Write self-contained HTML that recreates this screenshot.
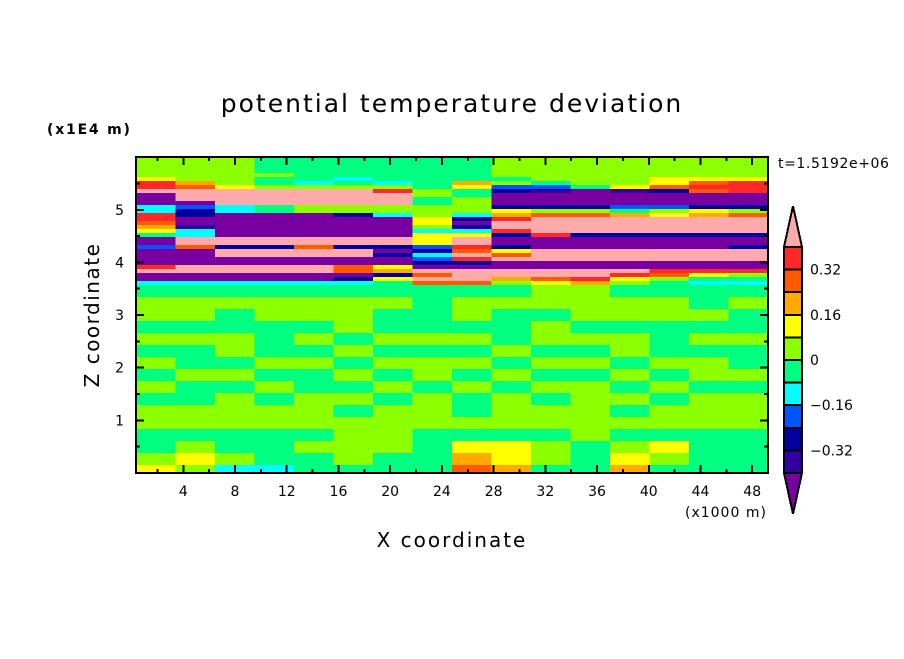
<!DOCTYPE html>
<html><head><meta charset="utf-8"><style>
body{margin:0;background:#fff;}
svg text{font-family:"DejaVu Sans","Liberation Sans",sans-serif;fill:#000;}
</style></head><body>
<svg id="chart" width="904" height="654" viewBox="0 0 904 654" xmlns="http://www.w3.org/2000/svg" shape-rendering="crispEdges">
<rect width="904" height="654" fill="#fff"/>
<g id="cells"></g>
<g id="frame"></g>
<g id="cbar"></g>
<text x="452" y="112" font-size="25" letter-spacing="2" text-anchor="middle">potential temperature deviation</text>
<text x="47" y="134" font-size="14" letter-spacing="1.8" font-weight="bold">(x1E4 m)</text>
<text x="778" y="168" font-size="14" letter-spacing="0.6">t=1.5192e+06</text>
<text x="685" y="517" font-size="14" letter-spacing="1">(x1000 m)</text>
<text x="452" y="547" font-size="20" letter-spacing="2" text-anchor="middle">X coordinate</text>
<text transform="translate(99,315) rotate(-90)" font-size="20" letter-spacing="1.5" text-anchor="middle">Z coordinate</text>
<g id="ticklabels"></g>
</svg>
<script>
const colors=["#7800a0","#3200a0","#0000a0","#0055ff","#00ffff","#00ff80","#8cff00","#ffff00","#ffaa00","#ff5a00","#ff2828","#ffaaaa"];
const cbarLabels=["0.32","0.16","0","-0.16","-0.32"];
const cbarLabelValues=[0.32,0.16,0,-0.16,-0.32];
const xTicks=[4,8,12,16,20,24,28,32,36,40,44,48];
const yTicks=[1,2,3,4,5];
// upper region: z from 6.0 downward in 4px rows, 16 columns; codes index colour classes (value = -0.44 + 0.08*code)
const upperRows=[
[6,6,6,5,5,5,5,5,5,6,6,6,6,6,6,6],
[6,6,6,5,5,5,5,5,5,6,6,6,6,6,6,6],
[6,6,6,5,5,5,5,5,5,6,6,6,6,6,6,6],
[6,6,6,5,5,5,5,5,5,6,6,6,6,6,6,6],
[6,6,6,6,5,5,5,5,5,6,6,6,6,6,6,6],
[7,6,6,5,5,4,5,5,5,5,6,6,6,7,7,7],
[10,8,6,5,4,5,4,5,8,6,5,6,6,7,9,10],
[10,9,7,6,6,6,6,5,7,3,3,5,7,9,10,10],
[11,11,11,11,11,11,10,6,5,2,1,0,1,2,9,10],
[0,11,11,11,11,11,11,6,5,0,0,0,0,0,0,0],
[0,11,11,11,11,11,11,5,6,0,0,0,0,0,0,0],
[0,0,11,11,11,11,11,5,6,0,0,0,0,0,0,0],
[4,3,4,5,6,6,6,6,6,2,2,2,3,3,2,2],
[4,2,4,5,6,6,6,6,6,7,6,6,5,6,7,6],
[10,2,0,0,0,2,4,6,4,8,9,9,8,7,8,9],
[10,0,0,0,0,0,0,7,2,10,11,11,11,11,11,11],
[9,0,0,0,0,0,0,7,0,11,11,11,11,11,11,11],
[8,1,0,0,0,0,0,6,2,11,11,11,11,11,11,11],
[7,4,0,0,0,0,0,4,4,10,11,11,11,11,11,11],
[5,4,0,0,0,0,0,7,7,2,10,2,2,2,2,2],
[0,11,11,11,11,11,11,7,11,0,0,0,0,0,0,0],
[0,11,11,11,11,11,11,7,11,0,0,0,0,0,0,0],
[3,9,2,2,9,2,2,3,10,2,0,0,0,0,0,2],
[0,0,11,11,11,11,0,2,9,7,11,11,11,11,11,11],
[0,0,11,11,11,11,2,4,11,9,11,11,11,11,11,11],
[0,0,0,0,0,0,0,3,10,11,11,11,11,11,11,11],
[0,0,0,0,0,0,0,2,2,0,0,0,0,0,0,0],
[10,11,11,11,11,9,7,0,0,0,0,0,0,0,0,0],
[11,11,11,11,11,9,8,11,11,11,11,11,11,10,10,10],
[0,0,0,0,0,0,2,9,11,11,11,11,10,9,7,6],
[0,0,0,0,0,2,7,11,11,8,9,10,7,6,5,5],
[4,4,4,4,4,4,5,9,9,6,7,8,6,5,4,4]];
// lower region: 12px rows
const lowerRows=[
[5,5,5,5,5,5,5,5,5,5,6,6,5,5,5,5],
[6,6,6,6,6,6,6,5,6,6,6,6,6,6,5,6],
[6,6,5,6,6,6,5,5,6,5,5,6,6,6,6,5],
[5,5,5,5,5,6,5,5,5,5,6,5,5,5,5,5],
[6,6,6,5,6,5,6,6,6,5,6,6,6,5,6,6],
[5,5,6,5,5,6,5,5,5,6,5,5,6,5,5,5],
[6,5,5,6,6,5,6,6,6,5,6,6,5,6,6,5],
[5,6,6,5,5,6,5,6,5,6,5,5,6,5,6,6],
[6,5,5,6,5,5,6,5,6,5,6,6,5,6,5,5],
[5,5,6,5,6,6,5,6,5,6,5,6,6,5,6,6],
[6,6,6,6,6,5,6,6,5,6,6,6,5,6,6,6],
[6,6,6,6,6,6,6,6,6,6,6,6,6,6,6,6],
[5,5,5,5,5,6,6,5,5,5,5,6,5,5,5,5],
[5,6,5,5,6,6,6,5,7,7,6,5,6,7,5,5],
[6,7,6,5,5,6,5,5,8,7,6,5,7,6,5,5],
[7,6,4,4,5,5,5,5,9,8,5,5,8,5,5,5]];
const NS="http://www.w3.org/2000/svg";
const PL=136,PR=768,PT=157,PB=473;
function xScale(v){return 183.3+(v-4)*12.93;}
function yScale(v){return PB-v*52.65;}
function mk(tag,attrs,parent){const e=document.createElementNS(NS,tag);for(const k in attrs)e.setAttribute(k,attrs[k]);parent.appendChild(e);return e;}
const cells=document.getElementById('cells');
const cw=(PR-PL)/16;
function drawRows(rows,y0,h){
  rows.forEach((row,ri)=>{row.forEach((c,ci)=>{
    const y=y0+ri*h; const hh=Math.min(h,PB-y); if(hh<=0)return;
    const r=mk('rect',{x:PL+ci*cw,y:y,width:cw+0.6,height:hh+0.6,fill:colors[c]},cells);
    
    
  });});
}
drawRows(upperRows,PT,4);
drawRows(lowerRows,PT+upperRows.length*4,12);
const frame=document.getElementById('frame');
mk('rect',{x:PL,y:PT,width:PR-PL,height:PB-PT,fill:'none',stroke:'#000','stroke-width':2},frame);
const tl=document.getElementById('ticklabels');
for(let v=2;v<=48;v+=2){const x=xScale(v);const L=(v%4===0)?8:4;
  mk('line',{x1:x,y1:PB,x2:x,y2:PB-L,stroke:'#000','stroke-width':2},frame);
  mk('line',{x1:x,y1:PT,x2:x,y2:PT+L,stroke:'#000','stroke-width':2},frame);}
xTicks.forEach(v=>{const t=mk('text',{x:xScale(v),y:496,'font-size':14,'text-anchor':'middle'},tl);t.textContent=v;
  
  });
for(let v=0.5;v<6;v+=0.5){const y=yScale(v);const L=(Math.abs(v%1)<0.01)?8:4;
  mk('line',{x1:PL,y1:y,x2:PL+L,y2:y,stroke:'#000','stroke-width':2},frame);
  mk('line',{x1:PR,y1:y,x2:PR-L,y2:y,stroke:'#000','stroke-width':2},frame);}
yTicks.forEach(v=>{const t=mk('text',{x:124,y:yScale(v)+5,'font-size':14,'text-anchor':'end'},tl);t.textContent=v;
  
  });
// colorbar
const cb=document.getElementById('cbar');
const bx=784,bw=18,btop=247,bh=22.6;
function cbY(val){return btop+(0.4-val)/0.08*bh;}
mk('polygon',{points:`${bx},${btop} ${bx+bw/2},206 ${bx+bw},${btop}`,fill:colors[11],stroke:'#000','stroke-width':2},cb);
for(let i=0;i<10;i++){const r=mk('rect',{x:bx,y:btop+i*bh,width:bw,height:bh,fill:colors[10-i],stroke:'#000','stroke-width':2},cb);
  
  }
mk('polygon',{points:`${bx},${btop+10*bh} ${bx+bw/2},514 ${bx+bw},${btop+10*bh}`,fill:colors[0],stroke:'#000','stroke-width':2},cb);
cbarLabels.forEach((s,i)=>{const t=mk('text',{x:810,y:cbY(cbarLabelValues[i])+5,'font-size':14},cb);t.textContent=s.replace('-','\u2212');
  
  });
</script>
</body></html>
